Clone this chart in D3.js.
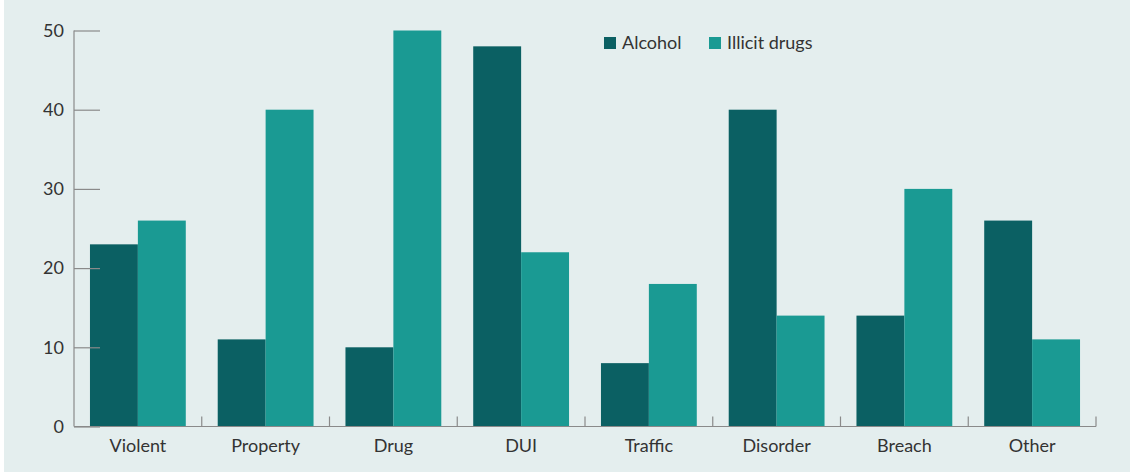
<!DOCTYPE html>
<html>
<head>
<meta charset="utf-8">
<script src="https://cdn.jsdelivr.net/npm/d3@7"></script>
<style>
  html, body { margin: 0; padding: 0; background: #ffffff; }
  svg { display: block; }
  text { font-family: Lato, "Open Sans", sans-serif; fill: #333333; }
</style>
</head>
<body>
<svg id="chart" width="1130" height="473"></svg>
<script>
// Offence categories and values per substance
const categories = ["Violent", "Property", "Drug", "DUI", "Traffic", "Disorder", "Breach", "Other"];
const seriesNames = ["Alcohol", "Illicit drugs"];
const alcohol = [23, 11, 10, 48, 8, 40, 14, 26];
const illicitDrugs = [26, 40, 50, 22, 18, 14, 30, 11];
const yTicks = [0, 10, 20, 30, 40, 50];
const colors = ["#0b6063", "#1a9a93"];

const svg = d3.select("#chart");
const W = 1130, H = 473;
const fontSize = 18;

// panel background
svg.append("rect").attr("x", 4).attr("y", 0).attr("width", W - 4).attr("height", 472)
  .attr("fill", "#e4eeee");

const plotLeft = 74, plotRight = 1096, plotTop = 30.5, plotBottom = 426.5;

const x0 = d3.scaleBand().domain(categories).range([plotLeft, plotRight])
  .paddingInner(0.25).paddingOuter(0.125);
const x1 = d3.scaleBand().domain(seriesNames).range([0, x0.bandwidth()]);
const y = d3.scaleLinear().domain([0, 50]).range([plotBottom, plotTop]);

const rows = categories.map((c, i) => ({ cat: c, vals: [alcohol[i], illicitDrugs[i]] }));

// bars
const g = svg.append("g");
g.selectAll("g.cat").data(rows).join("g")
  .attr("class", "cat")
  .attr("transform", d => `translate(${x0(d.cat)},0)`)
  .selectAll("rect").data(d => d.vals.map((v, j) => ({ name: seriesNames[j], v, j })))
  .join("rect")
  .attr("x", d => x1(d.name))
  .attr("width", x1.bandwidth())
  .attr("y", d => y(d.v))
  .attr("height", d => y(0) - y(d.v))
  .attr("fill", d => colors[d.j]);

const axisColor = "#8a8a8a";

// y axis: vertical line with inward ticks
const yAxis = svg.append("g").attr("transform", `translate(${plotLeft},0)`)
  .call(d3.axisRight(y).tickValues(yTicks).tickSize(26).tickFormat(""));
yAxis.select(".domain").remove();
yAxis.selectAll("line").attr("stroke", axisColor).attr("stroke-width", 1.2);
svg.append("line").attr("x1", plotLeft).attr("x2", plotLeft).attr("y1", plotTop).attr("y2", plotBottom)
  .attr("stroke", axisColor).attr("stroke-width", 1.2);
svg.append("g").selectAll("text").data(yTicks).join("text")
  .attr("x", plotLeft - 10).attr("y", d => y(d)).attr("dy", "0.35em")
  .attr("text-anchor", "end").attr("font-size", fontSize).text(d => d);

// x axis: baseline with upward ticks at category boundaries
svg.append("line").attr("x1", plotLeft).attr("x2", plotRight).attr("y1", plotBottom).attr("y2", plotBottom)
  .attr("stroke", axisColor).attr("stroke-width", 1.2);
const step = x0.step();
const bounds = d3.range(1, categories.length + 1).map(i => plotLeft + i * step);
svg.append("g").selectAll("line").data(bounds).join("line")
  .attr("x1", d => d).attr("x2", d => d).attr("y1", plotBottom).attr("y2", plotBottom - 10)
  .attr("stroke", axisColor).attr("stroke-width", 1.2);
svg.append("g").selectAll("text").data(categories).join("text")
  .attr("x", d => x0(d) + x0.bandwidth() / 2).attr("y", 452)
  .attr("text-anchor", "middle").attr("font-size", fontSize).text(d => d);

// legend
const legendX = [604, 709];
const lg = svg.append("g");
seriesNames.forEach((n, i) => {
  lg.append("rect").attr("x", legendX[i]).attr("y", 37).attr("width", 12).attr("height", 12)
    .attr("fill", colors[i]);
  lg.append("text").attr("x", legendX[i] + 18).attr("y", 49).attr("font-size", fontSize).text(n);
});
</script>
</body>
</html>
